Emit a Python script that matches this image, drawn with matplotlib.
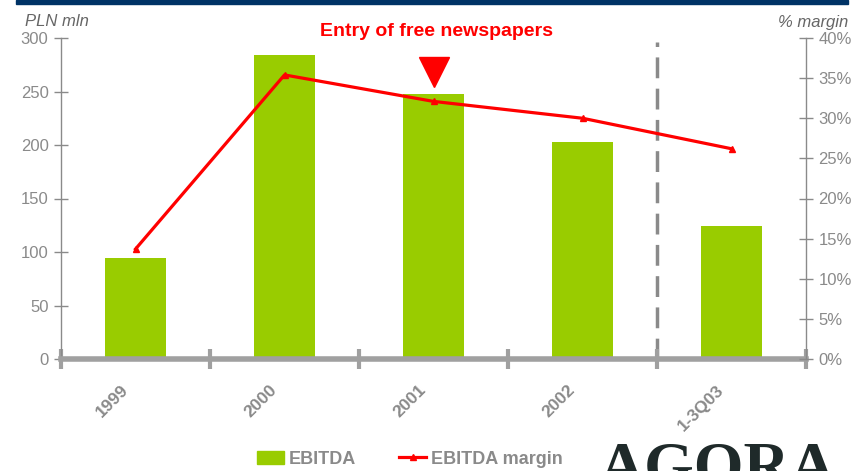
import matplotlib
matplotlib.use("Agg")
import matplotlib.pyplot as plt
import matplotlib.transforms as mtransforms
from matplotlib.lines import Line2D
from matplotlib.patches import Patch, Rectangle
import numpy as np

plt.rcParams['font.family'] = ['Liberation Sans', 'DejaVu Sans']

categories = ['1999', '2000', '2001', '2002', '1-3Q03']
ebitda = [94, 284, 248, 203, 124]
margin = [13.7, 35.4, 32.1, 30.0, 26.2]
left_ticks = [0, 50, 100, 150, 200, 250, 300]
right_ticks = [0, 5, 10, 15, 20, 25, 30, 35, 40]

GRAY = '#8a8a8a'
GREEN = '#99cc00'
RED = '#ff0000'

fig = plt.figure(figsize=(8.61, 4.71), dpi=100)
ax = fig.add_axes([61/861, 112/471, 745/861, 321/471])
ax2 = ax.twinx()

x = np.arange(len(categories))
ax.bar(x, ebitda, width=0.41, color=GREEN, zorder=2)
ax.set_xlim(-0.5, len(categories) - 0.5)
ax.set_ylim(0, 300)
ax.set_yticks(left_ticks)

ax2.plot(x, margin, color=RED, lw=2.3, marker='^', ms=5, zorder=5)
ax2.set_ylim(0, 40)
ax2.set_yticks(right_ticks)
ax2.set_yticklabels([f'{t}%' for t in right_ticks])

for a in (ax, ax2):
    a.spines['top'].set_visible(False)
    a.spines['left'].set_color(GRAY)
    a.spines['right'].set_color(GRAY)
    a.spines['left'].set_linewidth(1)
    a.spines['right'].set_linewidth(1)
    a.spines['bottom'].set_visible(False)
    a.tick_params(axis='y', direction='inout', length=10, width=1, color=GRAY,
                  labelcolor=GRAY, labelsize=12, pad=4)
ax.spines['right'].set_visible(False)
ax2.spines['left'].set_visible(False)

# x axis: thick gray line with boundary ticks
ax.axhline(0, color='#a0a0a0', lw=4, zorder=3, clip_on=False)
ax.set_xticks(np.arange(-0.5, len(categories), 1.0))
ax.set_xticklabels([])
ax.tick_params(axis='x', which='major', direction='inout', length=14, width=3, color='#a0a0a0')
ax.set_xticks(x, minor=True)
ax.set_xticklabels(categories, minor=True, rotation=45, ha='right',
                   rotation_mode='anchor', fontweight='bold', color=GRAY, fontsize=12.5)
ax.tick_params(axis='x', which='minor', length=0, pad=17)
offset = mtransforms.ScaledTranslation(-0.15, 0, fig.dpi_scale_trans)
for lbl in ax.xaxis.get_minorticklabels():
    lbl.set_transform(lbl.get_transform() + offset)

# dashed separator
ax.plot([3.5, 3.5], [0, 296], color=GRAY, lw=2.5, dashes=(6, 3), zorder=1)

# annotation
ax.plot([2], [268], marker='v', ms=22, color=RED, zorder=6, clip_on=False)
ax.text(2.02, 298, 'Entry of free newspapers', color=RED, fontsize=14,
        fontweight='bold', ha='center', va='bottom')

# axis titles
fig.text(25/861, 1 - 22/471, 'PLN mln', fontsize=12, style='italic', color='#666666',
         ha='left', va='center')
fig.text(848/861, 1 - 22/471, '% margin', fontsize=12, style='italic', color='#666666',
         ha='right', va='center')

# top band
fig.patches.append(Rectangle((16/861, 1 - 4/471), 832/861, 4/471, transform=fig.transFigure,
                             color='#003366', zorder=10))

# legend
handles = [Patch(color=GREEN), Line2D([], [], color=RED, lw=2.3, marker='^', ms=5)]
leg = fig.legend(handles, ['EBITDA', 'EBITDA margin'], ncol=2, frameon=False,
                 loc='center', bbox_to_anchor=(410/861, 12/471), fontsize=13,
                 handlelength=1.5, columnspacing=2.4, handletextpad=0.25)
for t in leg.get_texts():
    t.set_color(GRAY)
    t.set_fontweight('bold')

# logo
fig.text(598/861, -15/471, 'AGORA', fontsize=46, family='Liberation Serif',
         fontweight='bold', color='#1f2a2a', ha='left', va='baseline')

fig.savefig('out.png', dpi=100)
